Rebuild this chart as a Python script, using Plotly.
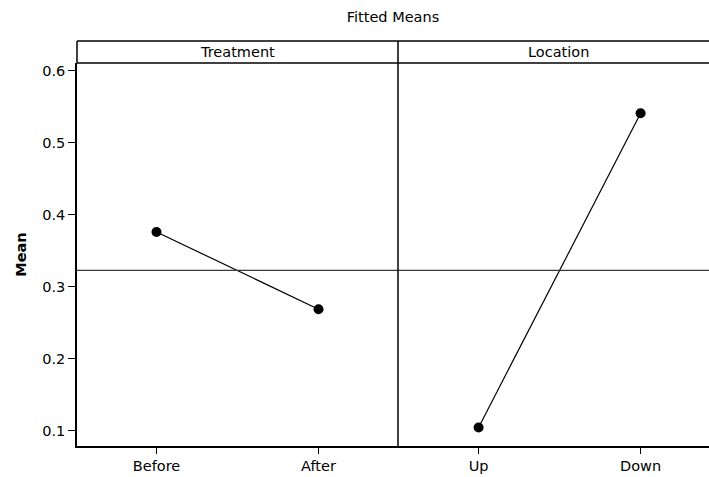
import plotly.graph_objects as go

# Fitted means for each factor level
treatment_levels = ["Before", "After"]
treatment_means = [0.376, 0.2686]
location_levels = ["Up", "Down"]
location_means = [0.1045, 0.5408]
grand_mean = 0.3226

y_ticks = [0.1, 0.2, 0.3, 0.4, 0.5, 0.6]

W, H = 709, 477
ML, MR, MT, MB = 77, 0, 41, 31
plot_h = H - MT - MB
strip_px = 22
y_top = 1 - strip_px / plot_h
split = 321 / (W - ML - MR)

FONT = "DejaVu Sans"
FS = 14.5
line_col = "#000000"

fig = go.Figure()
fig.add_trace(go.Scatter(
    x=treatment_levels, y=treatment_means, mode="lines+markers",
    line=dict(color="black", width=1.2),
    marker=dict(color="black", size=10),
    xaxis="x", yaxis="y", showlegend=False, cliponaxis=False,
))
fig.add_trace(go.Scatter(
    x=location_levels, y=location_means, mode="lines+markers",
    line=dict(color="black", width=1.2),
    marker=dict(color="black", size=10),
    xaxis="x2", yaxis="y2", showlegend=False, cliponaxis=False,
))

y_range = [0.0787, 0.6107]
axis_font = dict(family=FONT, size=FS, color="black")

fig.update_layout(
    width=W, height=H,
    margin=dict(l=ML, r=MR, t=MT, b=MB),
    paper_bgcolor="white", plot_bgcolor="white",
    font=dict(family=FONT, size=FS, color="black"),
    title=dict(text="Fitted Means", x=(ML + 632 * 0.5) / W, xanchor="center",
               y=1 - 17 / H, yanchor="middle",
               font=dict(family=FONT, size=FS, color="black")),
    xaxis=dict(domain=[0, split], type="category", range=[-0.4907, 1.4907],
               showline=True, linecolor=line_col, linewidth=1.5,
               ticks="outside", ticklen=6, tickcolor=line_col,
               showgrid=False, zeroline=False, tickfont=axis_font),
    xaxis2=dict(domain=[split, 1], type="category", range=[-0.4975, 1.4222],
                showline=True, linecolor=line_col, linewidth=1.5,
                ticks="outside", ticklen=6, tickcolor=line_col,
                showgrid=False, zeroline=False, tickfont=axis_font,
                anchor="y2"),
    yaxis=dict(domain=[0, y_top], range=y_range, tickvals=y_ticks,
               ticktext=[f"{v:.1f}" for v in y_ticks],
               showline=True, linecolor=line_col, linewidth=1.5,
               ticks="outside", ticklen=7, tickcolor=line_col,
               showgrid=False, zeroline=False, tickfont=axis_font,
               title=dict(text="<b>Mean</b>", standoff=12,
                          font=dict(family=FONT, size=FS, color="black"))),
    yaxis2=dict(domain=[0, y_top], range=y_range, matches="y",
                showticklabels=False, showgrid=False, zeroline=False,
                anchor="x2"),
)

shapes = []
# grand-mean reference lines in both panels
for xr, yr in (("x", "y"), ("x2", "y2")):
    shapes.append(dict(type="line", xref=f"{xr} domain", yref=yr,
                       x0=0, x1=1, y0=grand_mean, y1=grand_mean,
                       line=dict(color="#3a3a3a", width=1.2)))
# panel divider, strip bottom and frame top
shapes.append(dict(type="line", xref="paper", yref="paper",
                   x0=split, x1=split, y0=0, y1=1,
                   line=dict(color=line_col, width=1.5)))
shapes.append(dict(type="line", xref="paper", yref="paper",
                   x0=0, x1=1, y0=y_top, y1=y_top,
                   line=dict(color=line_col, width=1.5)))
shapes.append(dict(type="line", xref="paper", yref="paper",
                   x0=0, x1=1, y0=1, y1=1,
                   line=dict(color=line_col, width=1.5)))
shapes.append(dict(type="line", xref="paper", yref="paper",
                   x0=0, x1=0, y0=y_top, y1=1,
                   line=dict(color=line_col, width=1.5)))
fig.update_layout(shapes=shapes)

strip_y = (1 + y_top) / 2
fig.add_annotation(text="Treatment", xref="paper", yref="paper",
                   x=split / 2, y=strip_y, showarrow=False,
                   xanchor="center", yanchor="middle",
                   font=dict(family=FONT, size=FS, color="black"))
fig.add_annotation(text="Location", xref="paper", yref="paper",
                   x=(558 - ML) / (W - ML), y=strip_y, showarrow=False,
                   xanchor="center", yanchor="middle",
                   font=dict(family=FONT, size=FS, color="black"))

fig.write_html("out.html")
